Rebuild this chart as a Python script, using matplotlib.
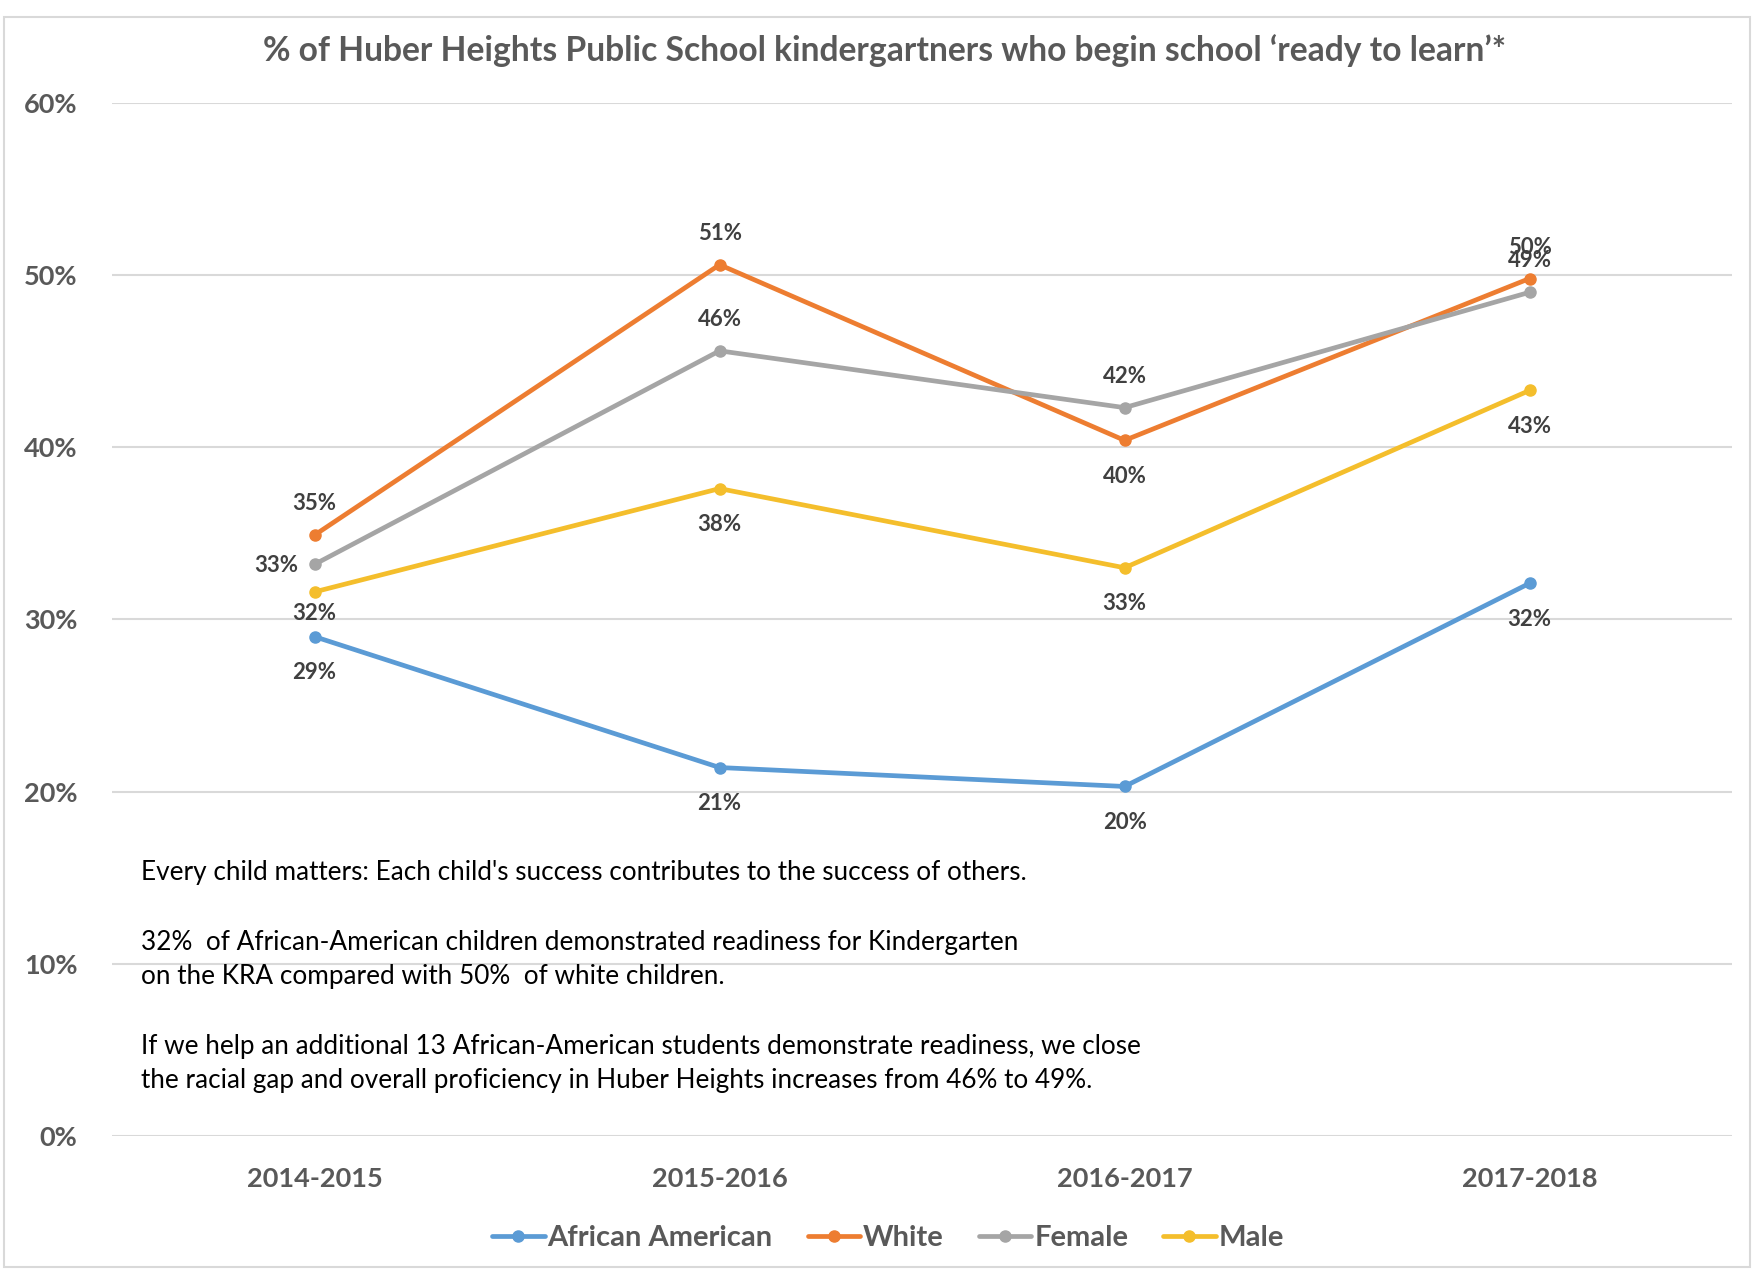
import matplotlib.pyplot as plt
from matplotlib.ticker import PercentFormatter
from matplotlib.patches import Rectangle

years = ['2014-2015', '2015-2016', '2016-2017', '2017-2018']
african_american = [29.0, 21.4, 20.3, 32.1]
white = [34.9, 50.6, 40.4, 49.8]
female = [33.2, 45.6, 42.3, 49.0]
male = [31.6, 37.6, 33.0, 43.3]

series = [('African American', african_american, '#5B9BD5', ['below', 'below', 'below', 'below']),
          ('White', white, '#ED7D31', ['above', 'above', 'below', 'above']),
          ('Female', female, '#A5A5A5', ['left', 'above', 'above', 'above']),
          ('Male', male, '#F4BE2C', ['near', 'below', 'below', 'below'])]

plt.rcParams['font.family'] = ['Lato', 'DejaVu Sans']

fig = plt.figure(figsize=(17.54, 12.70), dpi=100)
ax = fig.add_axes([0.0639, 0.1055, 0.9236, 0.8135])

# label offsets in points
offsets = {'above': (0, 15, 'center', 'bottom'),
           'below': (0, -18.5, 'center', 'top'),
           'near': (0, -8, 'center', 'top'),
           'left': (-12, -1, 'right', 'center')}

x = range(len(years))
for name, vals, col, pos in series:
    ax.plot(x, vals, color=col, lw=3.4, marker='o', ms=8, label=name, solid_capstyle='round')
    for xi, v, p in zip(x, vals, pos):
        dx, dy, ha, va = offsets[p]
        ax.annotate('%d%%' % round(v), (xi, v), xytext=(dx, dy), textcoords='offset points',
                    ha=ha, va=va, fontsize=16, fontweight='bold', color='#404040')

ax.set_xlim(-0.5, 3.5)
ax.set_ylim(0, 60)
ax.set_yticks(range(0, 61, 10))
ax.yaxis.set_major_formatter(PercentFormatter(decimals=0))
ax.set_xticks(list(x))
ax.set_xticklabels(years)
ax.grid(axis='y', color='#D9D9D9', lw=1.5)
ax.set_axisbelow(True)
for s in ax.spines.values():
    s.set_visible(False)
ax.tick_params(length=0, labelsize=19.5, labelcolor='#595959')
ax.tick_params(axis='x', pad=22)
ax.tick_params(axis='y', pad=25)
for t in ax.get_xticklabels() + ax.get_yticklabels():
    t.set_fontweight('bold')

fig.text(0.504, 0.960, '% of Huber Heights Public School kindergartners who begin school \u2018ready to learn\u2019*',
         ha='center', va='center', fontsize=24.2, fontweight='bold', color='#595959')

notes = [(0.3128, "Every child matters: Each child's success contributes to the success of others."),
         (0.2581, '32%  of African-American children demonstrated readiness for Kindergarten'),
         (0.2308, 'on the KRA compared with 50%  of white children.'),
         (0.1762, 'If we help an additional 13 African-American students demonstrate readiness, we close'),
         (0.1489, 'the racial gap and overall proficiency in Huber Heights increases from 46% to 49%.')]
for yy, txt in notes:
    fig.text(0.0805, yy, txt, ha='left', va='center', fontsize=18.8, color='#000000')

ax.legend(loc='center', bbox_to_anchor=(0.479, -0.0985), ncol=4, frameon=False,
          handlelength=1.8, handletextpad=0.1, columnspacing=1.2,
          labelcolor='#595959', prop={'weight': 'bold', 'size': 21})

fig.patches.append(Rectangle((0.002, 0.002), 0.996, 0.985, transform=fig.transFigure,
                             fill=False, edgecolor='#D9D9D9', lw=1.5))

fig.savefig('out.png', dpi=100)
